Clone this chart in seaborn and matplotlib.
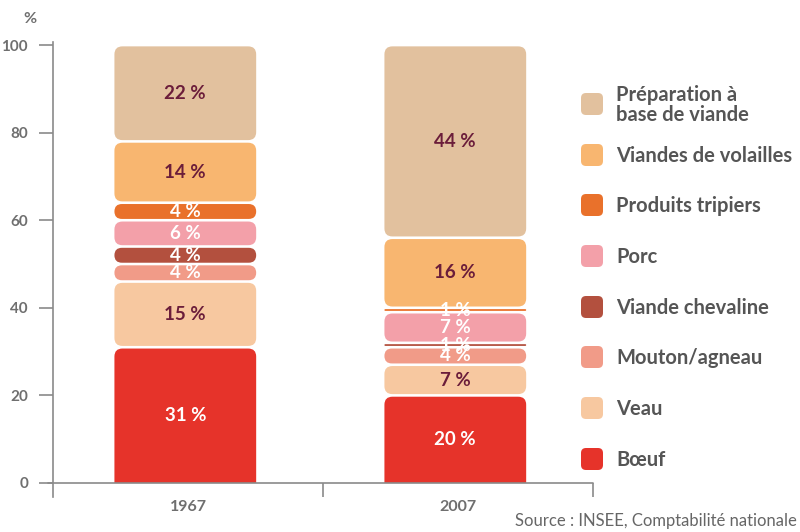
import numpy as np
import pandas as pd
import matplotlib
matplotlib.use("Agg")
import matplotlib.pyplot as plt
import seaborn as sns
from matplotlib.patches import FancyBboxPatch, Rectangle

# Data (bottom -> top of each stacked bar)
years = ["1967", "2007"]
categories = ["Bœuf", "Veau", "Mouton/agneau", "Viande chevaline", "Porc",
              "Produits tripiers", "Viandes de volailles", "Préparation à\nbase de viande"]
share_1967 = [31, 15, 4, 4, 6, 4, 14, 22]
share_2007 = [20, 7, 4, 1, 7, 1, 16, 44]

colors = ["#e6332a", "#f7c8a0", "#f19b88", "#b3503e", "#f3a0a9",
          "#e9712b", "#f8b670", "#e2c19e"]
label_colors = ["white", "#6b1d3a", "white", "white", "white",
                "white", "#6b1d3a", "#6b1d3a"]

rows = []
for year, vals in zip(years, [share_1967, share_2007]):
    tops = np.cumsum(vals)
    for cat, v, t in zip(categories, vals, tops):
        rows.append({"year": year, "cat": cat, "value": v, "top": t, "bottom": t - v})
df = pd.DataFrame(rows)

sns.set_theme(style="white")
plt.rcParams["font.family"] = ["Lato", "DejaVu Sans"]

W, H = 800, 532
fig = plt.figure(figsize=(8, 5.32), dpi=100)
ax_l, ax_r, ax_t, ax_b = 53, 593, 42, 497
ax = fig.add_axes([ax_l / W, 1 - ax_b / H, (ax_r - ax_l) / W, (ax_b - ax_t) / H])

ymin, ymax = -3.2, 100.7
ax.set_xlim(-0.5, 1.5)
ax.set_ylim(ymin, ymax)

px_x = (ax_r - ax_l) / 2.0
px_y = (ax_b - ax_t) / (ymax - ymin)
aspect = px_x / px_y
gap = 1.3 / px_y          # half gap between segments, in data units
bar_w = 0.525

clip_rect = Rectangle((-1, 0), 4, 200, transform=ax.transData)

for cat, col, lc in zip(categories, colors, label_colors):
    sub = df[df["cat"] == cat]
    n0 = len(ax.patches)
    sns.barplot(data=sub, x="year", y="top", order=years, color=col,
                saturation=1, width=bar_w, errorbar=None, ax=ax)
    new = list(ax.patches[n0:])
    for p, (_, r) in zip(new, sub.iterrows()):
        x0, w = p.get_x() - 0.01, p.get_width()
        p.remove()
        y0 = r["bottom"] + gap if r["bottom"] > 0 else -3
        y1 = r["top"] - gap
        h = y1 - y0
        rad_px = min(8, h * px_y / 2)
        box = FancyBboxPatch((x0, y0), w, h,
                             boxstyle=f"round,pad=0,rounding_size={rad_px / px_x}",
                             mutation_aspect=aspect, fc=col, ec="none")
        ax.add_patch(box)
        box.set_clip_path(clip_rect)
        ax.text(x0 + w / 2, (r["bottom"] + r["top"]) / 2, f"{r['value']} %",
                ha="center", va="center", color=lc, fontsize=13.5,
                fontweight="bold")

# axes styling
grey = "#8a8a8a"
sns.despine(ax=ax, top=True, right=True, bottom=True)
ax.spines["left"].set_color(grey)
ax.spines["left"].set_linewidth(1.2)
ax.plot([-0.52, 1.5], [0, 0], color=grey, lw=1.2, clip_on=False)
ax.vlines([0.5, 1.5], ymin, 0, color=grey, lw=1.2, clip_on=False)

ax.set_yticks([0, 20, 40, 60, 80, 100])
ax.tick_params(axis="y", length=10, width=1.2, color=grey, pad=8,
               labelsize=11, labelcolor="#6f6f6f", left=True)
ax.tick_params(axis="x", length=0, pad=2, labelsize=11.5, labelcolor="#6f6f6f")
for t in ax.get_yticklabels() + ax.get_xticklabels():
    t.set_fontweight("bold")
ax.set_xlabel("")
ax.set_ylabel("")
ax.grid(False)

fig.text(30 / W, 1 - 19 / H, "%", ha="center", va="center", fontsize=11.5,
         color="#6f6f6f", fontweight="bold")

# legend (top item first)
leg_y = [104, 155, 205, 256, 307, 357, 408, 459]
for cat, col, yp in zip(categories[::-1], colors[::-1], leg_y):
    sq = FancyBboxPatch(((581) / W, 1 - (yp + 11) / H), 22 / W, 22 / H,
                        boxstyle=f"round,pad=0,rounding_size={5 / W}",
                        mutation_aspect=W / H, transform=fig.transFigure,
                        fc=col, ec="none")
    fig.patches.append(sq)
    fig.text(616 / W, 1 - (yp + 1) / H, cat, ha="left", va="center",
             fontsize=14.5, color="#555555", fontweight="bold", linespacing=1.0)

fig.text(797 / W, 1 - 521 / H, "Source : INSEE, Comptabilité nationale",
         ha="right", va="center", fontsize=12, color="#666666")

fig.savefig("out.png", dpi=100)
